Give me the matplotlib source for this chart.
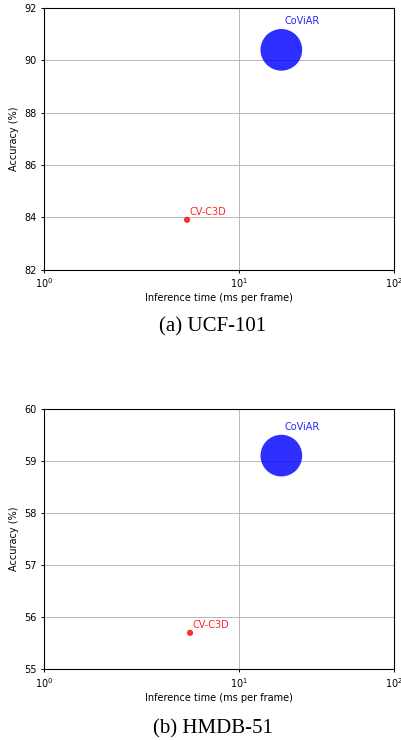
import matplotlib
matplotlib.use("Agg")
import matplotlib.pyplot as plt
import numpy as np

# data
methods = ["CoViAR", "CV-C3D"]
colors = ["blue", "red"]
sizes = [900, 20]
ucf_time = [18.2, 4.9]
ucf_acc = [90.4, 83.9]
hmdb_time = [18.2, 5.1]
hmdb_acc = [59.1, 55.7]

x_ticks = [1, 10, 100]
x_ticklabels = [r"$10^{0}$", r"$10^{1}$", r"$10^{2}$"]
ucf_yticks = [82, 84, 86, 88, 90, 92]
hmdb_yticks = [55, 56, 57, 58, 59, 60]

# the decades in the source are not equally wide, so use a stretched log scale
P = 0.84


def fwd(x):
    l = np.log10(np.clip(x, 1e-12, None))
    return np.sign(l) * np.abs(l) ** P


def inv(y):
    return 10 ** (np.sign(y) * np.abs(y) ** (1 / P))


plt.rcParams["font.size"] = 7
plt.rcParams["axes.linewidth"] = 0.8
plt.rcParams["xtick.major.width"] = 0.7
plt.rcParams["ytick.major.width"] = 0.7
plt.rcParams["xtick.major.size"] = 2.5
plt.rcParams["ytick.major.size"] = 2.5
plt.rcParams["xtick.major.pad"] = 2.5
plt.rcParams["ytick.major.pad"] = 2.5

fig = plt.figure(figsize=(4.01, 7.40), dpi=100)
ax1 = fig.add_axes([0.109, 0.6358, 0.8736, 0.3534])
ax2 = fig.add_axes([0.109, 0.0955, 0.8736, 0.3522])


def draw(ax, times, accs, yticks, caption, cap_y):
    ax.set_xscale("function", functions=(fwd, inv))
    for name, c, s, t, a in zip(methods, colors, sizes, times, accs):
        ax.scatter(t, a, s=s, color=c, alpha=0.82, edgecolors="none", zorder=3)
        r = np.sqrt(s) / 2
        ax.annotate(name, (t, a), xytext=(2, r * 1.2 + 0.8),
                    textcoords="offset points", color=c, alpha=0.85,
                    fontsize=7, va="baseline", ha="left")
    ax.set_xlim(1, 100)
    ax.set_ylim(yticks[0], yticks[-1])
    ax.set_xticks(x_ticks)
    ax.set_xticklabels(x_ticklabels)
    ax.xaxis.set_minor_locator(matplotlib.ticker.NullLocator())
    ax.set_yticks(yticks)
    ax.grid(True, color="#b8b8b8", linewidth=0.7)
    ax.set_axisbelow(True)
    ax.set_xlabel("Inference time (ms per frame)", labelpad=2)
    ax.set_ylabel("Accuracy (%)", labelpad=4)
    fig.text(0.53, cap_y, caption, ha="center", va="center",
             fontsize=15, family="Liberation Serif")


draw(ax1, ucf_time, ucf_acc, ucf_yticks, "(a) UCF-101", 1 - 327 / 740)
draw(ax2, hmdb_time, hmdb_acc, hmdb_yticks, "(b) HMDB-51", 1 - 729 / 740)

fig.savefig("out.png", dpi=100)
